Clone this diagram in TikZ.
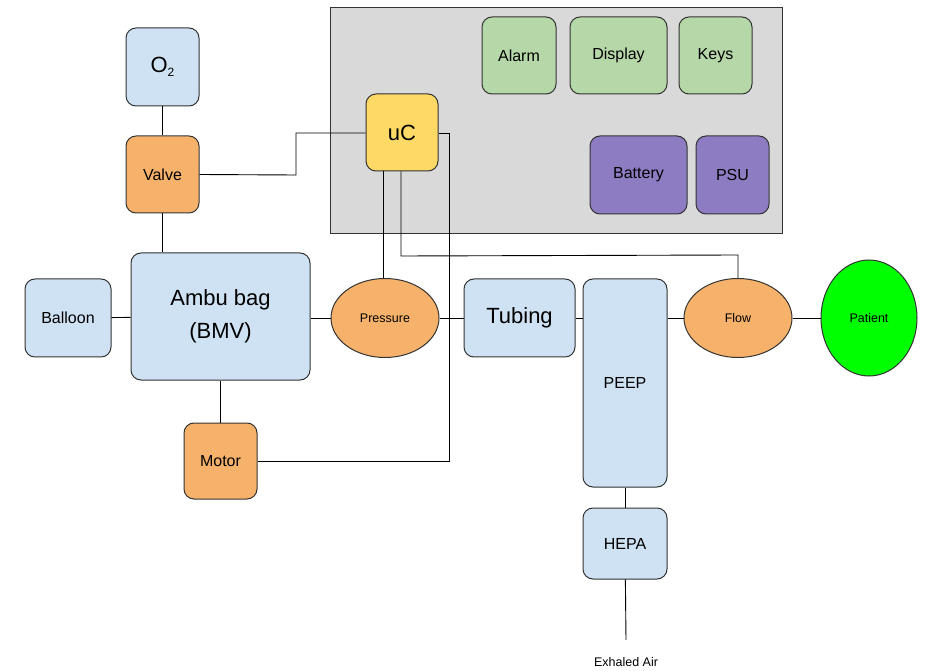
\documentclass[tikz,border=0pt]{standalone}
\usepackage{fontspec}
\setmainfont{Liberation Sans}
\usetikzlibrary{shapes.geometric}
\definecolor{lblue}{HTML}{CFE2F3}
\definecolor{lorange}{HTML}{F6B26B}
\definecolor{lgreen}{HTML}{B6D7A8}
\definecolor{lyellow}{HTML}{FFD966}
\definecolor{lpurple}{HTML}{8E7CC3}
\definecolor{lgray}{HTML}{D9D9D9}
\definecolor{bright}{HTML}{00FF00}
\definecolor{edge}{HTML}{333333}
\begin{document}
\begin{tikzpicture}[x=1pt,y=-1pt,
  blk/.style={draw=edge,line width=1pt,rounded corners=10pt,inner sep=0pt,align=center},
  ell/.style={draw=edge,line width=1pt,ellipse,inner sep=0pt},
  big/.style={font=\fontsize{22}{33}\selectfont},
  mid/.style={font=\fontsize{16}{18}\selectfont},
  sml/.style={font=\fontsize{12.5}{14}\selectfont},
  wire/.style={draw=black,line width=0.9pt}]
\useasboundingbox (0,0) rectangle (930,671);
\fill[lgray,draw=edge,line width=1pt] (330,8) rectangle (782,234);
% boxes: name, fill, font style, x1,y1,x2,y2, text
\newcommand{\bx}[8]{\node[blk,#3,fill=#2,minimum width={#6-#4},minimum height={#7-#5}] (#1) at ({(#4+#6)/2},{(#5+#7)/2}) {#8};}
\bx{alarm}{lgreen}{mid}{482}{17}{556}{94}{Alarm}
\bx{display}{lgreen}{mid}{570}{17}{667}{94}{Display}
\bx{keys}{lgreen}{mid}{679}{17}{752}{94}{Keys}
\bx{uc}{lyellow}{big}{366}{94}{438}{171}{uC}
\bx{battery}{lpurple}{mid}{590}{136}{687}{214}{Battery}
\bx{psu}{lpurple}{mid}{696}{136}{769}{214}{PSU}
\bx{o2}{lblue}{big}{126}{28}{199}{106}{O\raisebox{-0.3ex}{\fontsize{12}{12}\selectfont 2}}
\bx{valve}{lorange}{mid}{126}{136}{199}{213}{Valve}
\bx{ambu}{lblue}{big}{131}{253}{310}{380}{Ambu bag\\(BMV)}
\bx{balloon}{lblue}{mid}{25}{279}{111}{357}{Balloon}
\bx{tubing}{lblue}{big}{464}{279}{575}{357}{Tubing}
\bx{peep}{lblue}{mid}{583}{279}{667}{487}{PEEP}
\bx{hepa}{lblue}{mid}{583}{508}{667}{579}{HEPA}
\bx{motor}{lorange}{mid}{184}{423}{257}{499}{Motor}
\node[ell,sml,fill=lorange,minimum width=108,minimum height=79] (pressure) at (385,318) {Pressure};
\node[ell,sml,fill=lorange,minimum width=108,minimum height=79] (flow) at (738,318) {Flow};
\node[ell,sml,fill=bright,minimum width=96,minimum height=116] (patient) at (869,318) {Patient};
\node[sml,inner sep=0pt] (exhaled) at (626,662) {Exhaled Air};
\coordinate (exend) at (626,640);
% connectors
\draw[wire] (o2) -- (valve);
\draw[wire] (valve) -- (ambu.north -| valve);
\draw[wire] (valve.east) -- (296,175) -- (296,133) -- (uc.west |- 0,133);
\draw[wire] (uc.east |- 0,133) -- (449,133) -- (449,461) -- (motor.east |- 0,461);
\draw[wire] (uc.south -| 383,0) -- (pressure.north -| 383,0);
\draw[wire] (uc.south -| 401,0) -- (401,256) -- (738,255) -- (flow.north);
\draw[wire] (balloon) -- (ambu);
\draw[wire] (ambu.east |- pressure) -- (pressure);
\draw[wire] (pressure) -- (tubing);
\draw[wire] (tubing.east) -- (tubing.east -| peep.west);
\draw[wire] (peep.east |- flow) -- (flow.west);
\draw[wire] (flow) -- (patient);
\draw[wire] (ambu.south -| motor) -- (motor);
\draw[wire] (peep) -- (hepa);
\draw[wire] (hepa) -- (exend);
\end{tikzpicture}
\end{document}
